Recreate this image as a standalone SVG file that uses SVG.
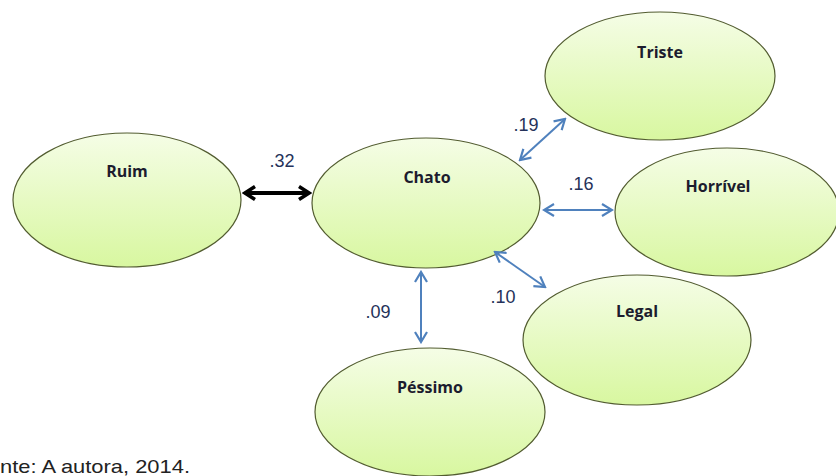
<svg xmlns="http://www.w3.org/2000/svg" width="836" height="476" viewBox="0 0 836 476">
<defs>
<linearGradient id="g" x1="0" y1="0" x2="0" y2="1">
<stop offset="0" stop-color="#f5fde6"/>
<stop offset="1" stop-color="#d8f7a0"/>
</linearGradient>
<marker id="bh" viewBox="0 0 14 14" refX="12" refY="7" markerWidth="14" markerHeight="14" markerUnits="userSpaceOnUse" orient="auto-start-reverse">
<path d="M2,1 L12,7 L2,13" fill="none" stroke="#4f81bd" stroke-width="2.2"/>
</marker>
<marker id="kh" viewBox="0 0 16 16" refX="13" refY="8" markerWidth="16" markerHeight="16" markerUnits="userSpaceOnUse" orient="auto-start-reverse">
<path d="M3,1.5 L13,8 L3,14.5" fill="none" stroke="#000" stroke-width="3.5"/>
</marker>
</defs>
<style>
.n{fill:url(#g);stroke:#525c30;stroke-width:1.2}
.t{font-family:"Open Sans","Liberation Sans",sans-serif;font-weight:bold;font-size:16px;fill:#1c1c2e;text-anchor:middle}
.v{font-family:"Liberation Sans",Arial,sans-serif;font-size:18px;fill:#25325a;text-anchor:middle}
.b{fill:none;stroke:#4f81bd;stroke-width:2;marker-start:url(#bh);marker-end:url(#bh)}
</style>
<rect width="836" height="476" fill="#fff"/>
<g id="ruim"><ellipse class="n" cx="127" cy="200" rx="114" ry="67"/><text class="t" x="127" y="177">Ruim</text></g>
<g id="chato"><ellipse class="n" cx="426" cy="203" rx="114" ry="65"/><text class="t" x="427" y="183">Chato</text></g>
<g id="triste"><ellipse class="n" cx="660" cy="76" rx="115" ry="64"/><text class="t" x="660" y="58">Triste</text></g>
<g id="horrivel"><ellipse class="n" cx="727" cy="212" rx="112" ry="64"/><text class="t" x="718" y="192">Horrível</text></g>
<g id="legal"><ellipse class="n" cx="637" cy="340" rx="114" ry="65"/><text class="t" x="637" y="317">Legal</text></g>
<g id="pessimo"><ellipse class="n" cx="430" cy="412" rx="115" ry="64"/><text class="t" x="430" y="393">Péssimo</text></g>
<g id="connectors">
<path d="M245,193 L309,193" fill="none" stroke="#000" stroke-width="4" marker-start="url(#kh)" marker-end="url(#kh)"/>
<path class="b" d="M520,160 L565,119"/>
<path class="b" d="M544,210 L612,210"/>
<path class="b" d="M495,252 L545,287"/>
<path class="b" d="M421,272 L421,342"/>
</g>
<g id="labels">
<text class="v" x="282" y="167">.32</text>
<text class="v" x="526" y="131">.19</text>
<text class="v" x="581" y="190">.16</text>
<text class="v" x="503" y="303">.10</text>
<text class="v" x="378" y="318">.09</text>
</g>
<text x="0" y="473" font-family="'Liberation Sans',Arial,sans-serif" font-size="19" fill="#222" textLength="190" lengthAdjust="spacingAndGlyphs">nte: A autora, 2014.</text>
</svg>
